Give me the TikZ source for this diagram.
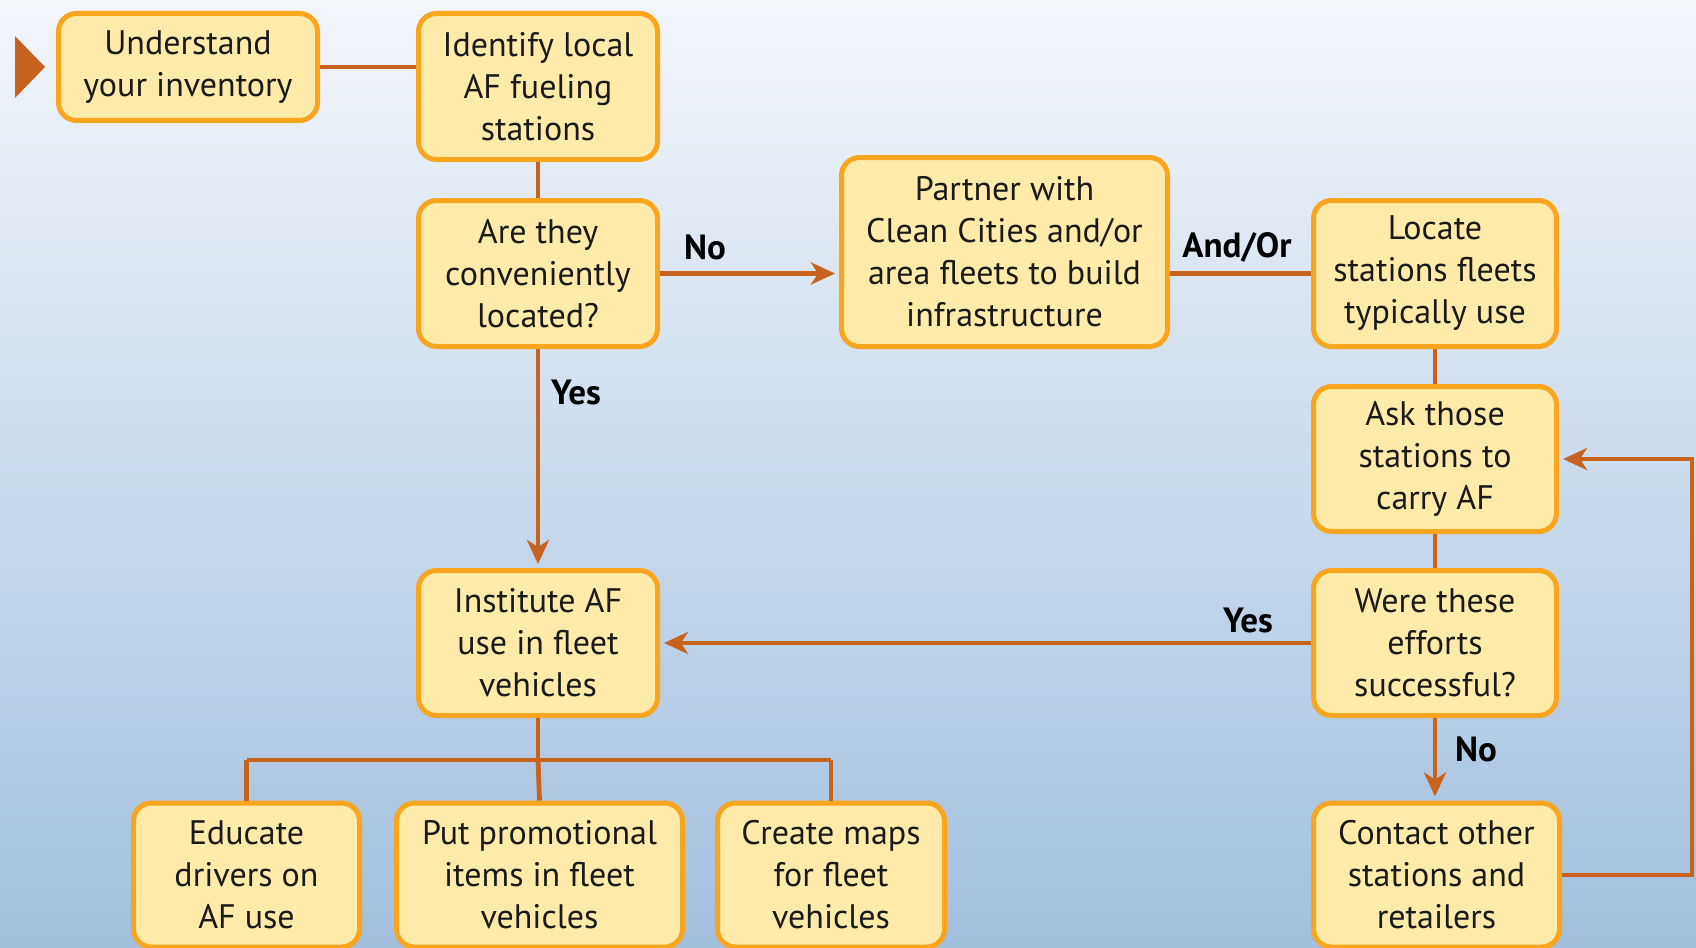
\documentclass[tikz,border=0pt]{standalone}
\usepackage{fontspec}
\setmainfont{PT Sans}
\usetikzlibrary{arrows.meta}
\definecolor{bgtop}{HTML}{F3F6FB}
\definecolor{bgbot}{HTML}{A2C0DE}
\definecolor{boxfill}{HTML}{FFEBA9}
\definecolor{boxline}{HTML}{F9A51E}
\definecolor{conncol}{HTML}{C8631F}
\definecolor{textc}{HTML}{1A1A1A}
\begin{document}
\begin{tikzpicture}[x=0.5pt,y=-0.5pt,
  box/.style={draw=boxline, line width=2.5pt, fill=boxfill, rounded corners=9pt,
    align=center, font=\fontsize{17}{21}\selectfont, text=textc, inner sep=0pt},
  conn/.style={draw=conncol, line width=2.4pt},
  arr/.style={conn, -{Stealth[length=12pt,width=11pt,inset=3.5pt]}, shorten >=2pt},
  lbl/.style={font=\bfseries\fontsize{17.5}{19}\selectfont, text=black, inner sep=0pt}]
\shade[top color=bgtop, bottom color=bgbot] (0,0) rectangle (1696,947);
\useasboundingbox (0,0) rectangle (1696,947);

\node[box, minimum width=129.5pt, minimum height=53.5pt] (b1) at (188,67) {Understand\\your inventory};
\node[box, minimum width=119.5pt, minimum height=73pt] (b2) at (538,86.5) {Identify local\\AF fueling\\stations};
\node[box, minimum width=119.5pt, minimum height=73pt] (b3) at (538,273.5) {Are they\\conveniently\\located?};
\node[box, minimum width=163pt, minimum height=94.5pt] (b4) at (1004.5,252) {Partner with\\Clean Cities and/or\\area fleets to build\\infrastructure};
\node[box, minimum width=121.5pt, minimum height=73pt] (b5) at (1435,273.5) {Locate\\stations fleets\\typically use};
\node[box, minimum width=121.5pt, minimum height=72.5pt] (b6) at (1435,459) {Ask those\\stations to\\carry AF};
\node[box, minimum width=121.5pt, minimum height=72.5pt] (b7) at (1435,643) {Were these\\efforts\\successful?};
\node[box, minimum width=123pt, minimum height=72pt] (b8) at (1436.5,875) {Contact other\\stations and\\retailers};
\node[box, minimum width=119.5pt, minimum height=72.5pt] (b9) at (538,643) {Institute AF\\use in fleet\\vehicles};
\node[box, minimum width=113pt, minimum height=72pt] (b10) at (246.5,875) {Educate\\drivers on\\AF use};
\node[box, minimum width=143pt, minimum height=72pt] (b11) at (539.5,875) {Put promotional\\items in fleet\\vehicles};
\node[box, minimum width=113.5pt, minimum height=72pt] (b12) at (831,875) {Create maps\\for fleet\\vehicles};

% start marker
\fill[conncol] (15,36) -- (45,67) -- (15,98) -- cycle;

% connectors
\draw[conn] (b1.east) -- (b1.east -| b2.west);
\draw[conn] (b2.south) -- (b3.north);
\draw[arr] (b3.east) -- (b3.east -| b4.west);
\draw[conn] (b5.west -| b4.east) -- (b5.west);
\draw[conn] (b5.south) -- (b6.north);
\draw[conn] (b6.south) -- (b7.north);
\draw[arr] (b3.south) -- (b9.north);
\draw[arr] (b7.west) -- (b9.east);
\draw[arr] (b7.south) -- (b7.south |- b8.north);
\coordinate (rc) at (1692,459);
\draw[arr] (b8.east) -| (rc) -- (b6.east);
\coordinate (bus) at (538,760);
\draw[conn] (b9.south) -- (bus);
\draw[conn] (b10.north |- bus) -- (b12.north |- bus);
\draw[conn] (b10.north |- bus) -- (b10.north);
\draw[conn] (bus) -- (b11.north);
\draw[conn] (b12.north |- bus) -- (b12.north);

% labels
\node[lbl] (l1) at (705,247) {No};
\node[lbl] (l2) at (1237,247) {And/Or};
\node[lbl] (l3) at (576,392) {Yes};
\node[lbl] (l4) at (1248,620) {Yes};
\node[lbl] (l5) at (1476,749) {No};
\end{tikzpicture}
\end{document}
